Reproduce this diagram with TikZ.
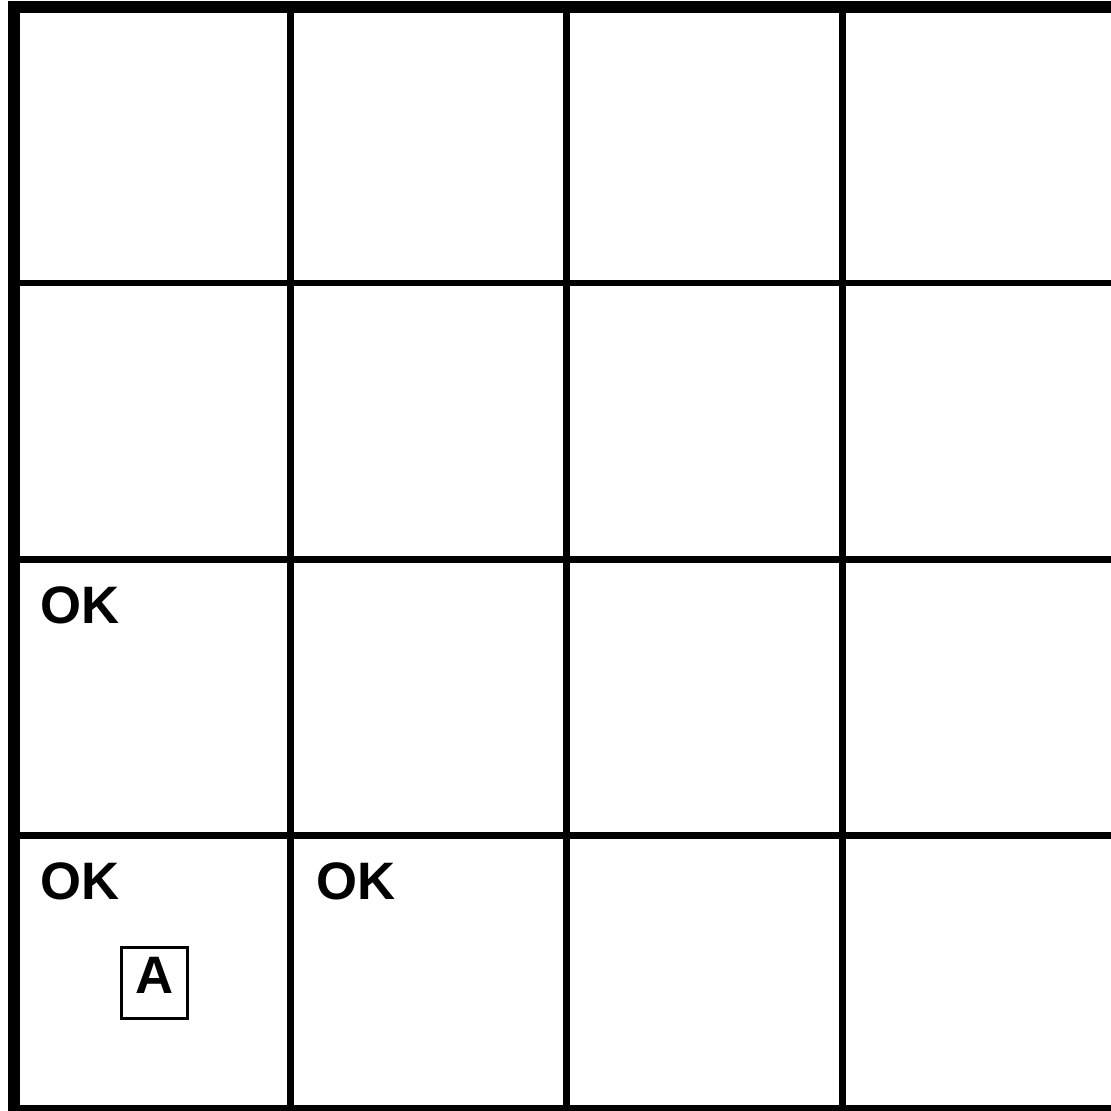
\documentclass[tikz,border=0pt]{standalone}
\usepackage{fontspec}
\setmainfont{Liberation Sans}
\usetikzlibrary{positioning}

\begin{document}
\begin{tikzpicture}[x=0.02cm, y=-0.02cm,
  frame/.style={draw, line width=0.24cm},
  gridline/.style={draw, line width=0.14cm},
  lab/.style={font=\fontsize{30}{36}\selectfont\bfseries, inner sep=0pt, anchor=base west},
  agent/.style={draw, line width=0.06cm, font=\fontsize{30}{36}\selectfont\bfseries, minimum width=1.32cm, text height=0.72cm, text depth=0.3cm, inner xsep=0pt, inner ysep=0.2cm}]
\useasboundingbox (0,0) rectangle (1111,1111);
\draw[gridline] (290,7) -- (290,1111);
\draw[gridline] (566,7) -- (566,1111);
\draw[gridline] (842,7) -- (842,1111);
\draw[gridline] (14,283) -- (1118,283);
\draw[gridline] (14,559) -- (1118,559);
\draw[gridline] (14,835) -- (1118,835);
\draw[frame] (14,7) rectangle (1118,1111);
\node[lab] (ok13) at (40,623) {OK};
\node[lab] (ok14) at (40,899) {OK};
\node[lab] (ok24) at (316,899) {OK};
\node[agent] (agt) at (154.5,983) {A};
\end{tikzpicture}
\end{document}
